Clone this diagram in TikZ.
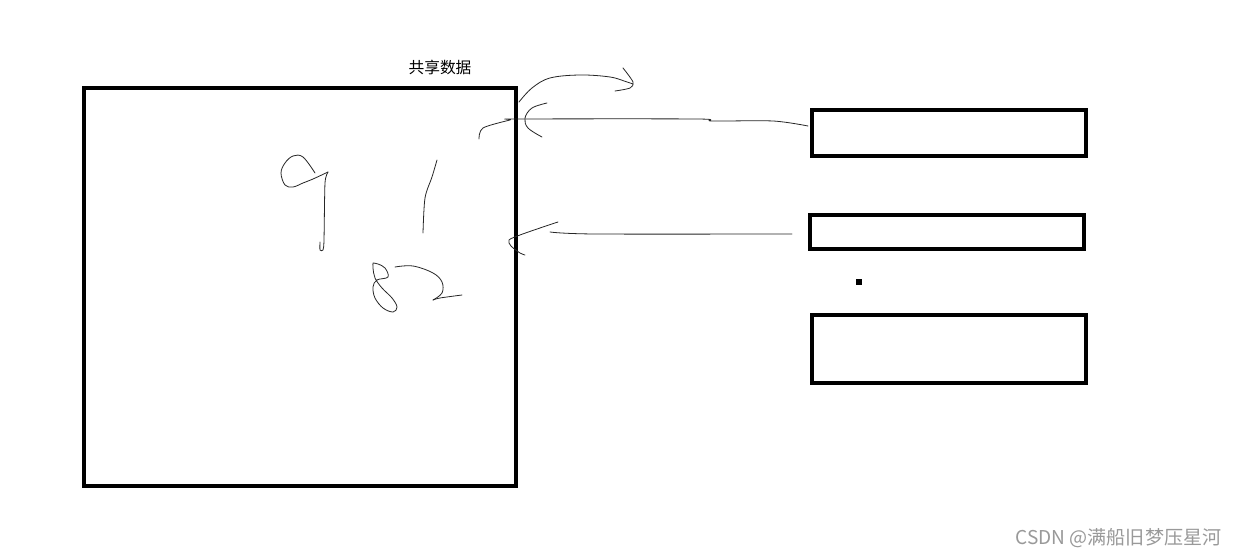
\documentclass[tikz,border=0pt]{standalone}
\usepackage{fontspec}
\newfontfamily\cjk{Noto Sans CJK SC}
\begin{document}
\begin{tikzpicture}[x=0.75pt,y=-0.75pt,
  box/.style={draw=black,line width=2.4pt,inner sep=0pt,outer sep=0pt,anchor=north west},
  ink/.style={draw=black!85,line width=0.6pt,line cap=round,line join=round}]
\useasboundingbox (0,0) rectangle (1240,556);
\fill[white] (0,0) rectangle (1240,556);
% boxes
\node[box,line width=3pt,minimum width=324pt,minimum height=298.5pt] (shared) at (84,88) {};
\node[box,minimum width=205.5pt,minimum height=34.5pt] (b1) at (812,110) {};
\node[box,minimum width=205.5pt,minimum height=25.5pt] (b2) at (810,215) {};
\node[box,minimum width=205.5pt,minimum height=51pt] (b3) at (812,315) {};
\node[fill=black,inner sep=0pt,minimum size=3.8pt] (dot) at (859,282) {};
% labels
\node[font=\cjk\fontsize{11.8}{13}\selectfont] (lbl) at (440,67) {共享数据};
\node[font=\cjk\fontsize{14.3}{16}\selectfont,text=black!40,anchor=east] (wm) at (1226,538) {CSDN @满船旧梦压星河};
% connectors (hand drawn)
\coordinate (s1) at (808,126);
\coordinate (s2) at (792,234);
\draw[ink] plot[smooth,tension=0.5] coordinates {(s1) (773,121) (712,121) (697,119) (517,119) (510,120) (483,128) (479,139)};
\draw[ink] plot[smooth,tension=0.6] coordinates {(547,103) (532,108) (525,118) (528,128) (542,137)};
\draw[ink] plot[smooth,tension=0.5] coordinates {(s2) (595,234) (550,232)};
\draw[ink] plot[smooth,tension=0.5] coordinates {(558,222) (540,228) (520,235) (509,240) (511,246) (520,253) (525,255)};
% top arc arrow
\draw[ink] plot[smooth,tension=0.6] coordinates {(519,102) (532,88) (550,78) (580,75) (610,77) (627,82) (633,84)};
\draw[ink] plot[smooth,tension=0.5] coordinates {(623,68) (633,82) (630,88) (615,91)};
% scribbles inside
\draw[ink] plot[smooth,tension=0.6] coordinates {(315,173) (303,157) (293,156) (285,163) (281,173) (285,185) (293,187) (303,183) (313,179) (328,172)};
\draw[ink] plot[smooth,tension=0.4] coordinates {(328,172) (325,183) (324,240) (323,250) (320,250) (320,242)};
\draw[ink] plot[smooth,tension=0.5] coordinates {(437,160) (432,177) (425,198) (423,233)};
\draw[ink] plot[smooth,tension=0.6] coordinates {(373,263) (378,264) (385,268) (388,277) (377,280) (373,287) (375,298) (383,308) (393,312) (397,307) (392,298) (382,288) (375,278) (373,268) (373,263)};
\draw[ink] plot[smooth,tension=0.6] coordinates {(395,267) (413,266) (433,273) (442,282) (442,293) (433,300)};
\draw[ink] plot[smooth,tension=0.5] coordinates {(433,300) (440,298) (462,295)};
\end{tikzpicture}
\end{document}
